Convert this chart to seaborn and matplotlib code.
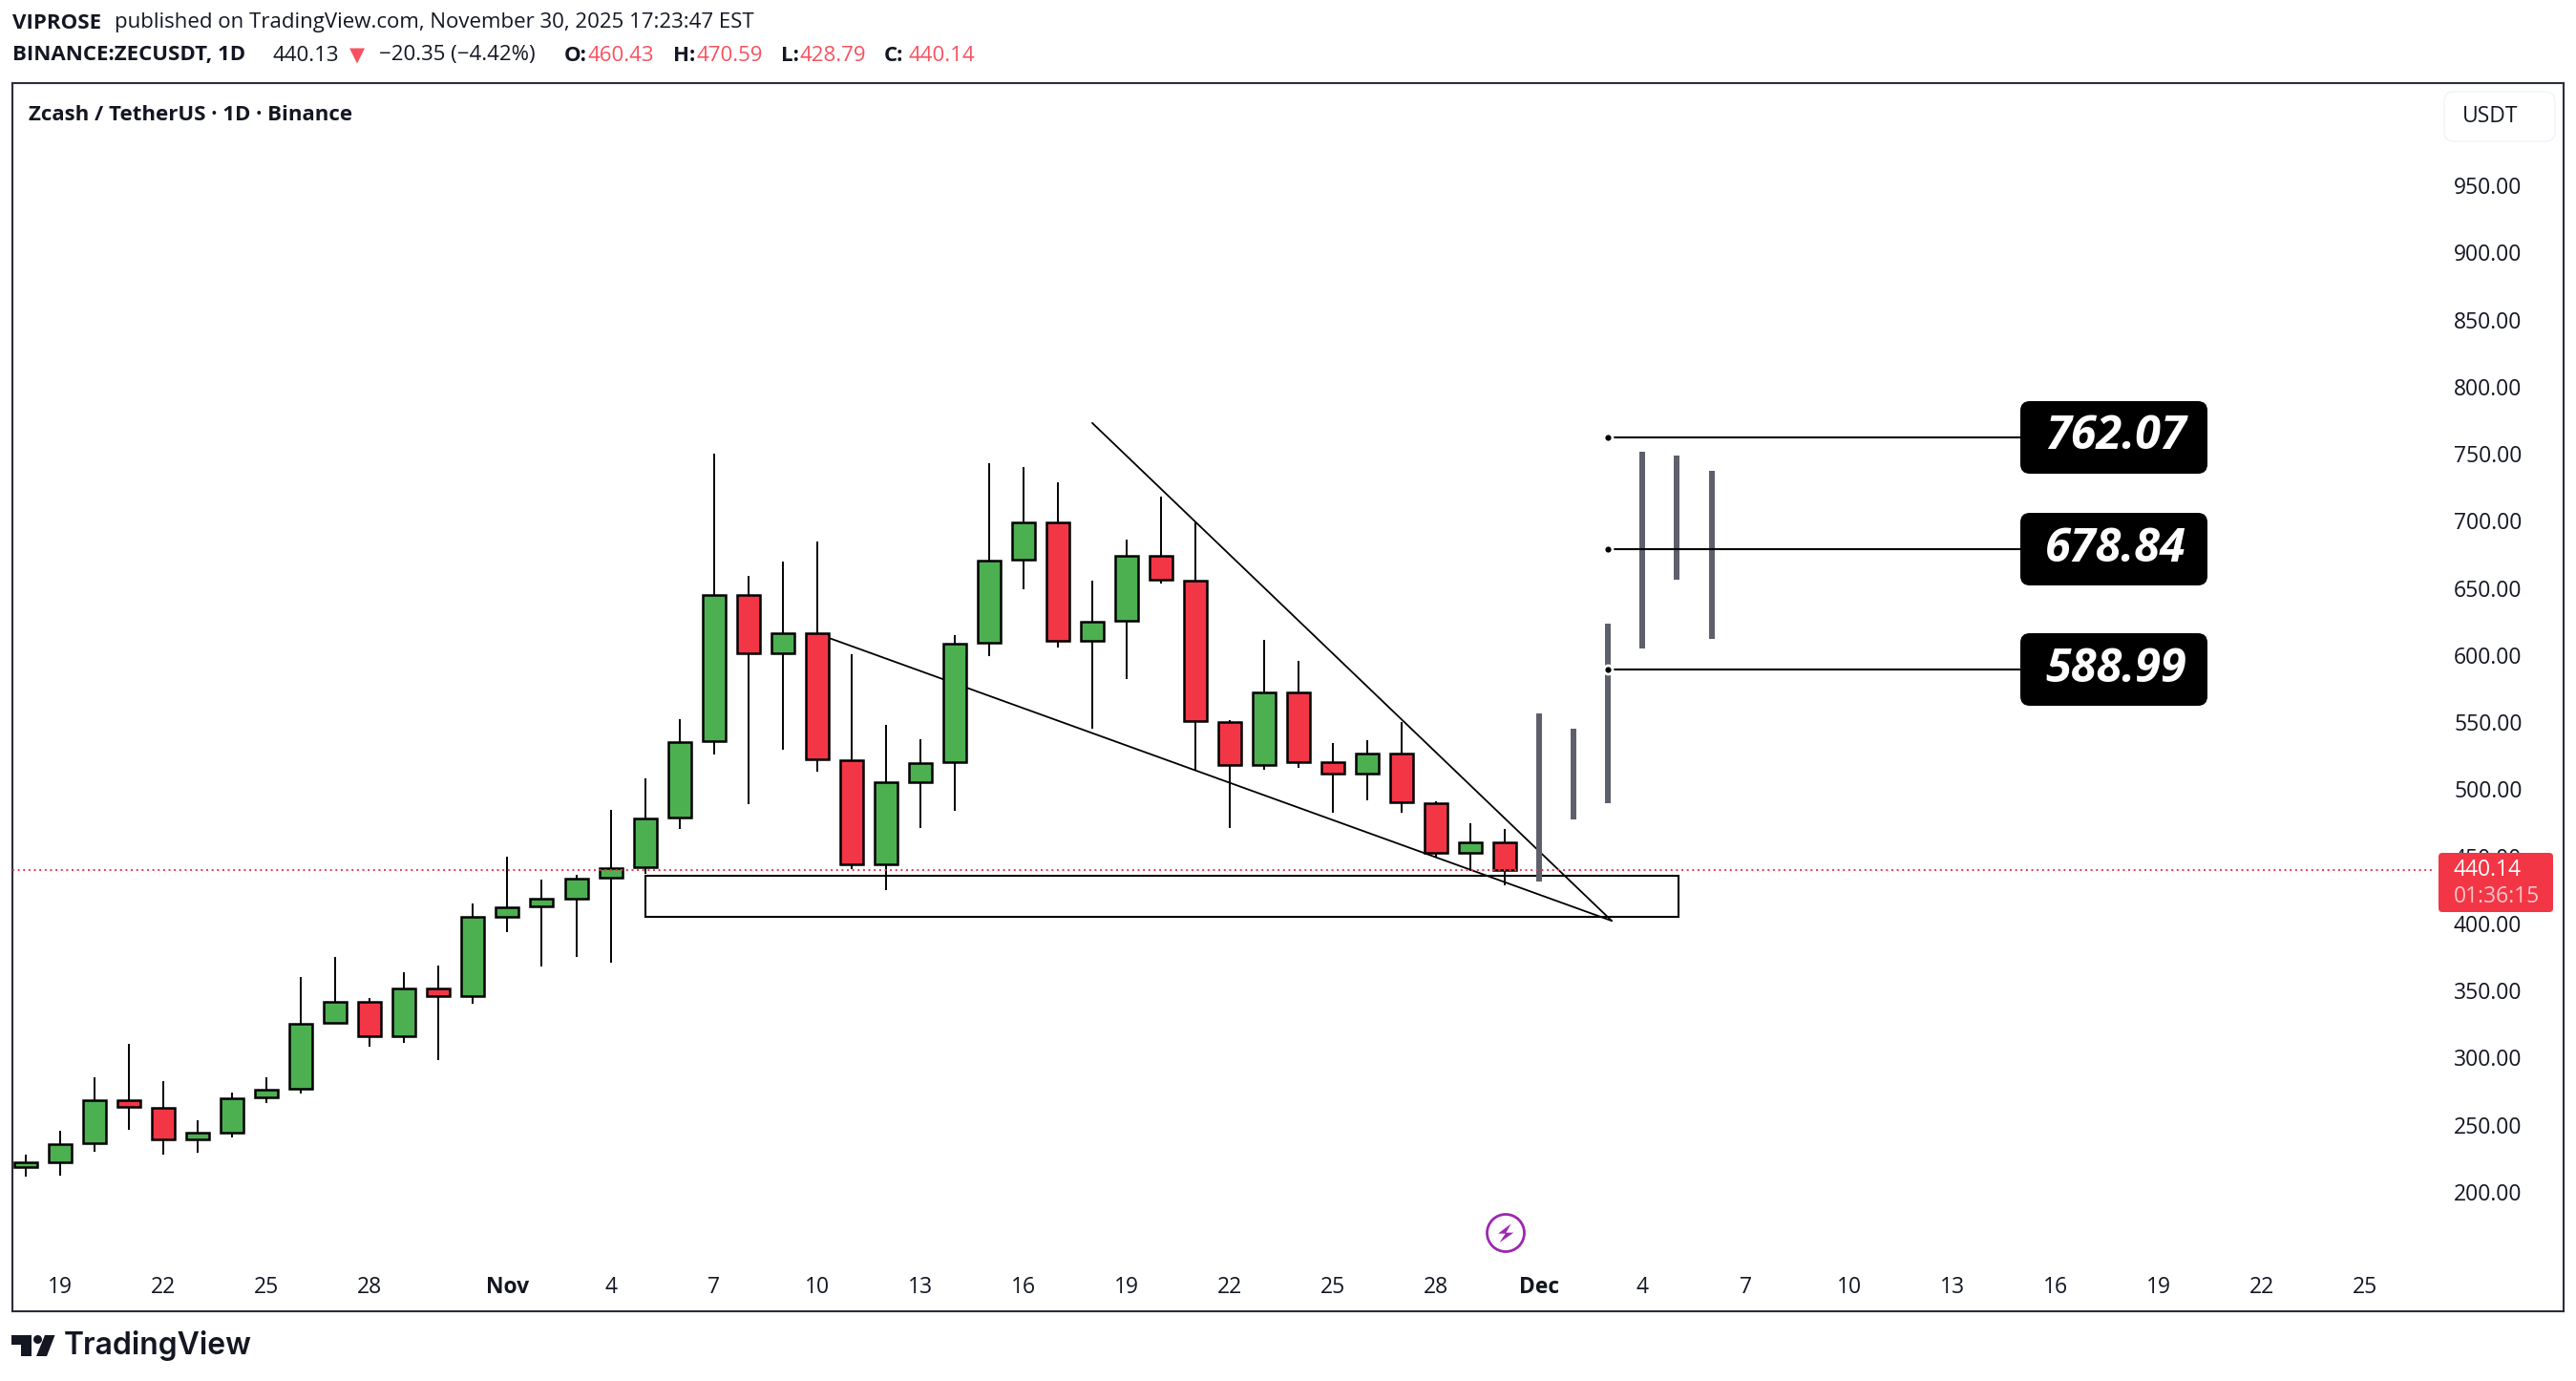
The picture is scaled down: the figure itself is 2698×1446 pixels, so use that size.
import numpy as np
import pandas as pd
import matplotlib
matplotlib.use("Agg")
import matplotlib.pyplot as plt
from matplotlib.patches import FancyBboxPatch, Polygon, Circle, Rectangle
from matplotlib.transforms import Affine2D
import seaborn as sns

# ---------- data ----------
opens = [218.2,221.9,236.1,268.5,262.8,239.0,244.0,270.3,276.7,326.0,341.9,316.1,351.8,345.8,
         404.8,412.5,418.2,434.0,441.8,478.9,536.0,645.1,601.2,616.0,522.0,444.2,505.4,520.4,
         609.3,671.2,699.2,610.7,625.4,674.3,655.8,550.5,518.2,572.5,519.9,511.8,527.0,489.6,
         452.8,460.43]
highs = [227.6,245.2,285.1,310.2,282.4,253.2,273.7,285.1,360.0,374.8,344.4,363.4,368.4,414.7,
         449.8,432.6,436.0,485.0,508.2,552.2,750.0,658.9,669.6,684.5,600.5,547.9,537.2,614.8,
         742.9,740.0,728.6,655.3,685.9,718.2,699.2,551.4,611.4,595.6,534.4,536.5,550.4,490.9,
         474.4,470.59]
lows = [211.0,211.8,230.1,246.5,227.4,229.4,240.8,266.5,273.0,326.0,308.4,310.7,298.5,340.4,
        393.9,368.2,375.3,371.1,437.0,470.1,525.6,488.6,529.8,512.8,440.7,425.2,470.8,484.3,
        599.6,649.4,606.0,545.5,582.5,653.7,514.2,470.8,514.9,516.3,482.2,492.1,482.8,449.2,
        439.0,428.79]
closes = [221.7,235.8,268.5,263.1,239.0,243.8,270.0,276.4,325.5,341.9,316.1,351.8,345.8,404.6,
          412.3,418.7,433.6,441.5,478.6,535.5,645.1,601.2,616.0,522.3,444.2,505.0,519.2,608.8,
          670.7,699.2,610.7,625.2,674.3,656.3,550.9,518.2,572.5,520.4,511.8,527.0,490.4,452.8,
          460.6,440.14]

ghost_idx = [44, 45, 46, 47, 48, 49]
ghost_high = [556.5, 545.3, 623.6, 751.7, 748.6, 737.5]
ghost_low = [431.4, 477.2, 489.9, 605.3, 656.4, 612.4]

upper_trend_idx = [31.0, 46.1]
upper_trend_price = [773.0, 402.0]
lower_trend_idx = [23.0, 46.1]
lower_trend_price = [616.0, 402.0]
zone_idx = [18.0, 48.05]
zone_price = [405.2, 435.8]

target_prices = [762.07, 678.84, 588.99]
target_start = 46.0
target_end = 58.0

last_price = 440.14

x_tick_idx = [1, 4, 7, 10, 14, 17, 20, 23, 26, 29, 32, 35, 38, 41, 44, 47, 50, 53, 56, 59, 62, 65, 68]
x_tick_labels = ["19", "22", "25", "28", "Nov", "4", "7", "10", "13", "16", "19", "22", "25", "28",
                 "Dec", "4", "7", "10", "13", "16", "19", "22", "25"]
y_ticks = [200, 250, 300, 350, 400, 450, 500, 550, 600, 650, 700, 750, 800, 850, 900, 950]

# ---------- style ----------
GREEN, RED, INK, FRAME, GHOST = "#4caf50", "#f23645", "#131722", "#2a2e39", "#5d606b"
W, H = 2698, 1446
sns.set_theme(style="white")
plt.rcParams["font.family"] = ["Open Sans", "DejaVu Sans"]

fig = plt.figure(figsize=(W / 100, H / 100), dpi=100, facecolor="white")
ax = fig.add_axes([13 / W, 1 - 1373 / H, (2685 - 13) / W, (1373 - 87) / H])
T = Affine2D().scale(1 / W, -1 / H).translate(0, 1) + fig.transFigure  # pixel placement for page furniture

n = len(opens)
idx = np.arange(n)
candles = pd.DataFrame({"i": idx, "o": opens, "h": highs, "l": lows, "c": closes})

# zone + trend lines sit behind the candles
ax.add_patch(Rectangle((zone_idx[0], zone_price[0]), zone_idx[1] - zone_idx[0], zone_price[1] - zone_price[0],
                       fill=False, ec="black", lw=1.5, zorder=2))
for xs, ys in ((upper_trend_idx, upper_trend_price), (lower_trend_idx, lower_trend_price)):
    sns.lineplot(x=xs, y=ys, ax=ax, color="black", lw=1.3, sort=False, estimator=None, legend=False, zorder=2)

# wicks
wicks = pd.concat([candles[["i", "h"]].rename(columns={"h": "price"}),
                   candles[["i", "l"]].rename(columns={"l": "price"})])
sns.lineplot(data=wicks, x="i", y="price", units="i", estimator=None, sort=False, ax=ax, color="black",
             lw=1.4, legend=False, zorder=2.5, solid_capstyle="butt")

# bodies
colors = [GREEN if c >= o else RED for o, c in zip(opens, closes)]
ax.bar(idx, np.abs(candles.c - candles.o), bottom=np.minimum(candles.o, candles.c), width=0.666,
       color=colors, edgecolor="black", linewidth=1.8, zorder=3)

# projected path
ghost = pd.DataFrame({"i": ghost_idx * 2, "price": ghost_high + ghost_low})
sns.lineplot(data=ghost, x="i", y="price", units="i", estimator=None, sort=False, ax=ax, color=GHOST,
             lw=4.3, legend=False, zorder=4, solid_capstyle="butt")

# targets
for t in target_prices:
    sns.lineplot(x=[target_start, target_end], y=[t, t], ax=ax, color="black", lw=1.5, sort=False,
                 estimator=None, legend=False, zorder=5)
sns.scatterplot(x=[target_start] * 3, y=target_prices, ax=ax, color="black", s=42, edgecolor="white",
                linewidth=2, legend=False, zorder=6)

# last price line
ax.plot([-0.4, 70.0], [last_price, last_price], color=RED, lw=1.4, ls=(0, (1, 1.9)), zorder=6)

# axes
ax.set_xlim(-0.389, 73.77)
ax.set_ylim(111.0, 1026.3)
ax.set_xlabel("")
ax.set_ylabel("")
for s in ax.spines.values():
    s.set_color(FRAME)
    s.set_linewidth(1.5)
ax.yaxis.tick_right()
ax.set_yticks(y_ticks)
ax.set_yticklabels([f"{v:.2f}" for v in y_ticks])
ax.tick_params(axis="y", length=0, pad=-82.8, labelsize=16.5, labelcolor=INK)
ax.set_xticks(x_tick_idx)
ax.set_xticklabels(x_tick_labels)
ax.tick_params(axis="x", length=0, pad=-26.5, labelsize=16.5, labelcolor=INK)
for lab in ax.get_xticklabels():
    if lab.get_text() in ("Nov", "Dec"):
        lab.set_fontweight("bold")
ax.grid(False)


def tx(x, y, s, **kw):
    kw.setdefault("va", "center")
    kw.setdefault("ha", "left")
    kw.setdefault("color", INK)
    kw.setdefault("fontsize", 16)
    return fig.text(x, y, s, transform=T, **kw)


# target labels
for t, top in zip(target_prices, [420, 537, 663]):
    fig.patches.append(FancyBboxPatch((2116, top), 196, 76, boxstyle="round,pad=0,rounding_size=10", fc="black",
                                      ec="none", transform=T, zorder=7, figure=fig))
    tx(2216, top + 38, f"{t:.2f}", ha="center", color="white", fontsize=35, fontweight="bold", fontstyle="italic",
       zorder=8)

# price tag
fig.patches.append(FancyBboxPatch((2554, 893), 120, 62, boxstyle="round,pad=0,rounding_size=4", fc=RED, ec="none",
                                  transform=T, zorder=7, figure=fig))
tx(2570, 911, f"{last_price:.2f}", color="white", fontsize=16.5, zorder=8)
tx(2570, 939, "01:36:15", color="#fbc4c9", fontsize=16.5, zorder=8)

# currency button
fig.patches.append(FancyBboxPatch((2560, 96), 116, 52, boxstyle="round,pad=0,rounding_size=10", fc="white",
                                  ec="#f0f3fa", lw=1, transform=T, zorder=7, figure=fig))
tx(2579, 122, "USDT", fontsize=16.5, zorder=8)

# header
tx(13, 24, "VIPROSE", fontweight="bold", fontsize=16)
tx(120, 24, "published on TradingView.com, November 30, 2025 17:23:47 EST", fontsize=16)
tx(13, 58, "BINANCE:ZECUSDT, 1D", fontweight="bold", fontsize=16)
tx(285, 58, "440.13", fontsize=16)
tx(366, 58, "▼", color="#f7525f", fontsize=15, family=["DejaVu Sans"])
tx(397, 58, "−20.35 (−4.42%)", fontsize=16)
for x_lab, lab, x_val, val in [(591, "O:", 615, "460.43"), (705, "H:", 729, "470.59"),
                               (818, "L:", 838, "428.79"), (926, "C:", 952, "440.14")]:
    tx(x_lab, 58, lab, fontweight="bold", fontsize=16)
    tx(x_val, 58, val, color="#f7525f", fontsize=16)
tx(30, 121, "Zcash / TetherUS · 1D · Binance", fontweight="bold", fontsize=16)

# TradingView logo
fig.patches.append(Polygon([(12, 1398), (33, 1398), (33, 1420), (22, 1420), (22, 1408), (12, 1408)], closed=True,
                           fc=INK, ec="none", transform=T, figure=fig))
fig.patches.append(Circle((39.5, 1402.5), 4.5, fc=INK, ec="none", transform=T, figure=fig))
fig.patches.append(Polygon([(47, 1398), (57.5, 1398), (49, 1420), (38, 1420)], closed=True, fc=INK, ec="none",
                           transform=T, figure=fig))
tx(67, 1409, "TradingView", fontsize=23, fontweight="semibold", family=["Inter", "DejaVu Sans"])

# bolt badge
fig.patches.append(Circle((1577, 1291), 19.5, fc="white", ec="#9c27b0", lw=2, transform=T, figure=fig, zorder=7))
bolt = [(248, 124), (207, 155), (230, 155), (212, 183), (256, 152), (232, 152)]
fig.patches.append(Polygon([(1500 + a / 3, 1240 + b / 3) for a, b in bolt], closed=True, fc="#9c27b0", ec="none",
                           transform=T, figure=fig, zorder=8))

fig.savefig("out.png", dpi=100, facecolor="white")
